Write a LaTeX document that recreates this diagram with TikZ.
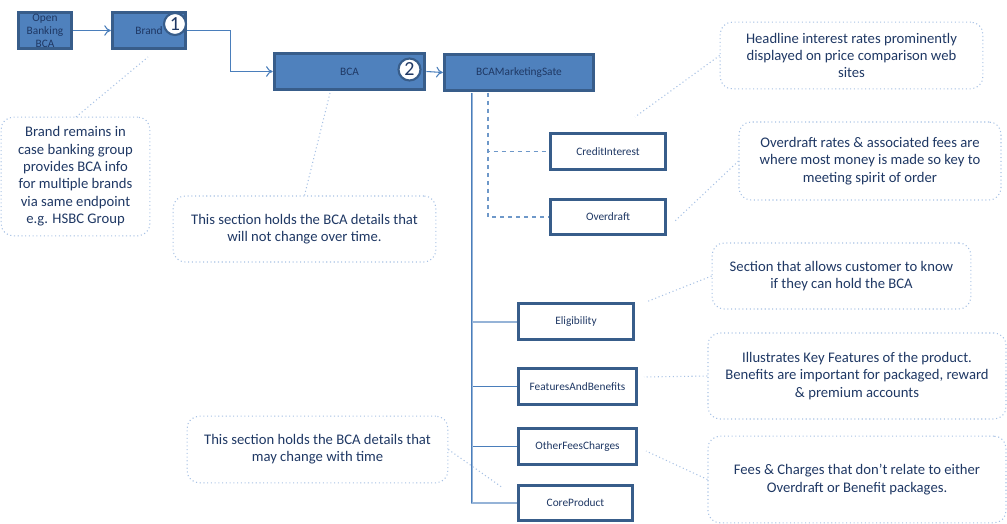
\documentclass[tikz,border=0pt]{standalone}
\usepackage{fontspec}
\setmainfont{Carlito}
\usetikzlibrary{arrows.meta}
\definecolor{boxfill}{HTML}{4F81BD}
\definecolor{boxline}{HTML}{385D8A}
\definecolor{txt}{HTML}{1F3864}
\definecolor{conn}{HTML}{4A7EBB}
\definecolor{connlight}{HTML}{95B3D7}
\definecolor{callline}{HTML}{A7C1E4}
\tikzset{
  bluebox/.style={draw=boxline, line width=2.2pt, fill=boxfill, text=txt, font=\fontsize{8.5}{9.8}\selectfont, align=center, inner sep=0pt, minimum height=27.5pt},
  whitebox/.style={draw=boxline, line width=2.2pt, fill=white, text=txt, font=\fontsize{8.5}{9.8}\selectfont, align=center, inner sep=0pt, minimum height=27.5pt},
  callout/.style={draw=callline, dotted, line width=0.8pt, rounded corners=9pt, text=txt, font=\fontsize{11}{13}\selectfont, align=center, inner sep=0pt},
  callconn/.style={draw=callline, dotted, line width=0.8pt},
  arr/.style={draw=conn, line width=0.8pt, -{To[length=5pt,width=8pt]}},
  trunk/.style={draw=conn, line width=1.3pt},
  branch/.style={draw=conn, line width=0.9pt},
  branchlight/.style={draw=connlight, line width=1.5pt},
  dashbranch/.style={draw=conn!80, dashed, line width=0.9pt},
  numcircle/.style={circle, draw=boxline, line width=1.6pt, fill=white, text=txt, font=\fontsize{15}{15}\selectfont, inner sep=0pt, minimum size=16.5pt}
}
\begin{document}
\begin{tikzpicture}[x=0.75pt,y=-0.75pt]
\useasboundingbox (0,0) rectangle (1007,524);
% main boxes
\node[bluebox, minimum width=40pt] (ob) at (45,30.5) {Open\\Banking\\BCA};
\node[bluebox, minimum width=55pt] (brand) at (149,30.5) {Brand};
\node[bluebox, minimum width=113pt] (bca) at (349.5,71.5) {BCA};
\node[bluebox, minimum width=112pt] (mkt) at (519,72.5) {BCAMarketingSate};
\node[numcircle] (n1) at (175,24) {1};
\node[numcircle] (n2) at (409.5,69.5) {2};
% child boxes
\node[whitebox, minimum width=86.5pt] (credit) at (608,151.5) {CreditInterest};
\node[whitebox, minimum width=86.5pt, minimum height=26.5pt] (over) at (608,217) {Overdraft};
\node[whitebox, minimum width=86.5pt] (elig) at (576,321.5) {Eligibility};
\node[whitebox, minimum width=88.5pt] (feat) at (577.5,386.5) {FeaturesAndBenefits};
\node[whitebox, minimum width=88.5pt] (other) at (577.5,446.5) {OtherFeesCharges};
\node[whitebox, minimum width=85.5pt, minimum height=26.5pt] (core) at (575.5,503) {CoreProduct};
% arrows
\draw[arr] (ob.east) -- (brand.west);
\draw[arr] (brand.east) -- ++(43,0) |- (bca.west);
\draw[arr] (bca.east) -- (mkt.west);
% tree
\coordinate (tr) at (471.5,93);
\coordinate (dtr) at (488,93);
\draw[branch] (tr) |- (feat.west);
\draw[branch] (tr) |- (other.west);
\draw[branchlight] (tr) |- (elig.west);
\draw[branchlight] (tr) |- (core.west);
\draw[trunk] (tr) -- (471.5,503);
\draw[dashbranch] (dtr) |- (credit.west);
\draw[dashbranch] (dtr) |- (over.west);
% callouts
\node[callout, minimum width=197pt, minimum height=50pt] (c1) at (851.5,55.5) {Headline interest rates prominently\\displayed on price comparison web\\sites};
\node[callout, minimum width=196.5pt, minimum height=58.5pt] (c2) at (870,161) {Overdraft rates \& associated fees are\\where most money is made so key to\\meeting spirit of order};
\node[callout, minimum width=194pt, minimum height=49.5pt] (c3) at (841.5,276) {Section that allows customer to know\\if they can hold the BCA};
\node[callout, minimum width=223.5pt, minimum height=64.5pt] (c4) at (857,376) {Illustrates Key Features of the product.\\Benefits are important for packaged, reward\\\& premium accounts};
\node[callout, minimum width=223.5pt, minimum height=65pt] (c5) at (857,479.5) {Fees \& Charges that don’t relate to either\\Overdraft or Benefit packages.};
\node[callout, minimum width=111.5pt, minimum height=89pt] (c6) at (75.5,176.5) {Brand remains in\\case banking group\\provides BCA info\\for multiple brands\\via same endpoint\\e.g. HSBC Group};
\node[callout, minimum width=197pt, minimum height=49.5pt] (c7) at (304.5,229) {This section holds the BCA details that\\will not change over time.};
\node[callout, minimum width=195.5pt, minimum height=50pt] (c8) at (317.5,449.5) {This section holds the BCA details that\\may change with time};
% callout connectors
\coordinate (e1) at (635,117);
\coordinate (e2) at (675,221);
\coordinate (e3) at (646,302);
\coordinate (e4) at (644,377);
\coordinate (e5) at (646,451);
\coordinate (e6) at (148,57);
\coordinate (e7) at (330,93);
\coordinate (e8) at (503,488);
\coordinate (s6) at (76,117);
\draw[callconn] (c1.west) -- (e1);
\draw[callconn] (c2.west) -- (e2);
\draw[callconn] (c3.west) -- (e3);
\draw[callconn] (c4.west) -- (e4);
\draw[callconn] (c5.west) -- (e5);
\draw[callconn] (s6) -- (e6);
\draw[callconn] (c7.north) -- (e7);
\draw[callconn] (c8.east) -- (e8);
\end{tikzpicture}
\end{document}
